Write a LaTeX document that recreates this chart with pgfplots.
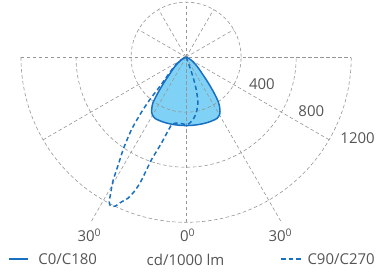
\documentclass[border=0pt]{standalone}
\usepackage{pgfplots}
\pgfplotsset{compat=1.18}
\usepackage{fontspec}
\setmainfont{Open Sans}
\definecolor{lineblue}{RGB}{24,112,194}
\definecolor{fillblue}{RGB}{0,165,235}
\definecolor{gridgray}{RGB}{150,150,150}
\definecolor{txt}{RGB}{85,85,85}
\begin{document}
\begin{tikzpicture}[font=\fontsize{15}{18}\selectfont]
\begin{axis}[x=0.1379pt, y=0.1379pt,
  xmin=-1352.4, xmax=1388.7, ymin=-1571.4, ymax=415.5,
  hide axis, clip=false]
\path (rel axis cs:0,0) rectangle (rel axis cs:1,1);
% solid C0/C180 fill
\addplot[draw=none, fill=fillblue, fill opacity=0.5, smooth, tension=0.4, data cs=polar] coordinates {
(190,0) (200,10) (205,22) (210,42) (215,70) (218,91) (220,108) (222,125) (224,148) (226,175) (228,220) (230,275) (232,340) (234,410) (236,445) (238,472) (240,488) (243,499) (245,500) (250,500) (255,499) (260,498) (265,497) (270,497)
(275,497) (280,498) (285,499) (290,500) (295,500) (297,498) (300,485) (302,465) (304,435) (306,395) (308,330) (310,268) (312,215) (314,172) (316,146) (318,123) (320,106) (322,90) (325,70) (330,42) (335,22) (340,10) (350,0)};
% grid
\begin{scope}[gridgray, line width=0.6pt, dash pattern=on 3.5pt off 2.5pt]
\draw (axis cs:0,0) circle[radius=55.16pt];
\draw (axis cs:-800,0) arc[start angle=180, end angle=360, radius=110.32pt];
\draw (axis cs:-1200,0) arc[start angle=180, end angle=360, radius=165.48pt];
\draw (axis cs:-1200,0) -- (axis cs:1200,0);
\draw (axis cs:0,0) -- (axis cs:0,-1200);
\draw (axis cs:0,0) -- (axis cs:-692.8,-1200);
\draw (axis cs:0,0) -- (axis cs:692.8,-1200);
\draw (axis cs:0,0) -- (axis cs:-1039.2,-600);
\draw (axis cs:0,0) -- (axis cs:1039.2,-600);
\draw (axis cs:0,0) -- (axis cs:0,400);
\draw (axis cs:0,0) -- (axis cs:200,346.4);
\draw (axis cs:0,0) -- (axis cs:-200,346.4);
\draw (axis cs:0,0) -- (axis cs:346.4,200);
\draw (axis cs:0,0) -- (axis cs:-346.4,200);
\end{scope}
% solid C0/C180 outline
\addplot[lineblue, line width=1.5pt, smooth, tension=0.4, data cs=polar] coordinates {
(190,0) (200,10) (205,22) (210,42) (215,70) (218,91) (220,108) (222,125) (224,148) (226,175) (228,220) (230,275) (232,340) (234,410) (236,445) (238,472) (240,488) (243,499) (245,500) (250,500) (255,499) (260,498) (265,497) (270,497)
(275,497) (280,498) (285,499) (290,500) (295,500) (297,498) (300,485) (302,465) (304,435) (306,395) (308,330) (310,268) (312,215) (314,172) (316,146) (318,123) (320,106) (322,90) (325,70) (330,42) (335,22) (340,10) (350,0)};
% dashed C90/C270
\addplot[lineblue, line width=1.5pt, dash pattern=on 4.5pt off 3pt, smooth, tension=0.4, data cs=polar] coordinates {
(295,0) (293,10) (291.5,30) (290.4,73) (289.3,149) (288.5,190) (287.3,249) (286,295) (284.4,345) (282,385) (280,414) (277,450) (273,481) (270,490)
(267,485) (264,482) (261,486) (258,500) (256,560) (254,650) (252.5,720) (251.3,790) (250,960) (249,1040) (247.6,1109) (246,1150) (244.5,1200) (243,1212) (242,1190) (241,1130) (239.5,1050) (238,940) (237,880) (235.5,800) (233,660) (231,520) (229.5,408) (228,280) (226,215) (224,175) (222,148) (220,125) (215,85) (210,50) (200,15) (190,0)};
% labels
\node[txt] at (axis cs:551,-199) {400};
\node[txt] at (axis cs:910,-392) {800};
\node[txt] at (axis cs:1246,-590) {1200};
\node[txt] at (axis cs:-703,-1296) {30\textsuperscript{0}};
\node[txt] at (axis cs:11,-1296) {0\textsuperscript{0}};
\node[txt] at (axis cs:685,-1296) {30\textsuperscript{0}};
% legend
\draw[lineblue, line width=1.5pt] (axis cs:-1285,-1465) -- (axis cs:-1147,-1465);
\node[txt, anchor=west, inner sep=0pt] at (axis cs:-1075,-1470) {C0/C180};
\node[txt] at (axis cs:-4,-1470) {cd/1000 lm};
\draw[lineblue, line width=1.5pt, dash pattern=on 4.5pt off 3pt] (axis cs:690,-1465) -- (axis cs:835,-1465);
\node[txt, anchor=west, inner sep=0pt] at (axis cs:881,-1470) {C90/C270};
\end{axis}
\end{tikzpicture}
\end{document}
